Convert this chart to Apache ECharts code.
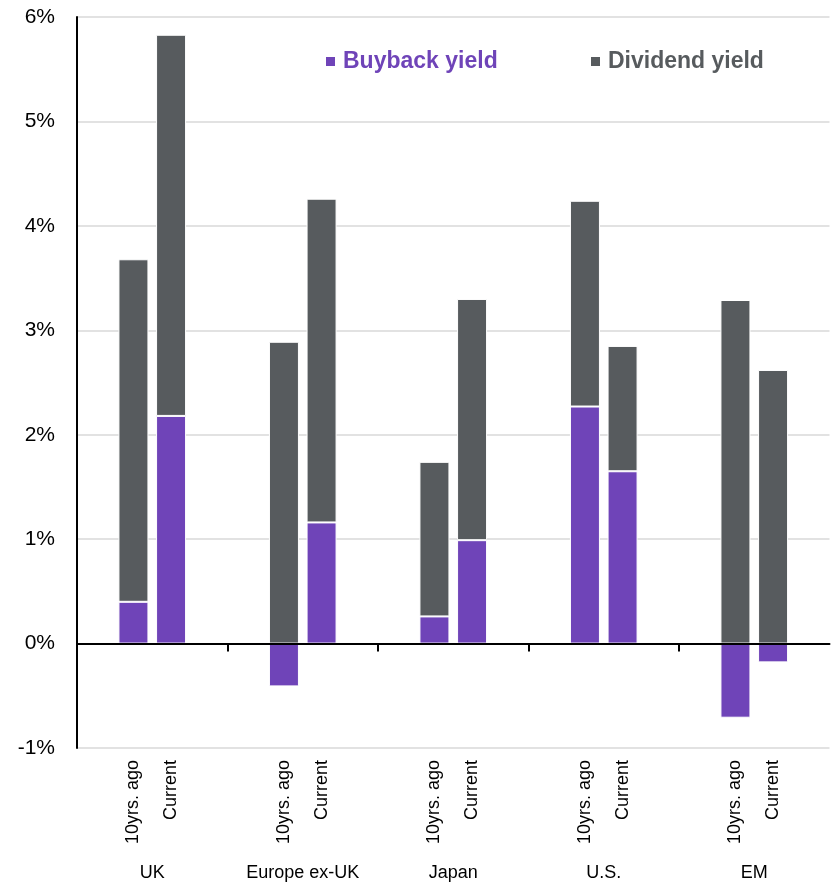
<!DOCTYPE html>
<html>
<head>
<meta charset="utf-8">
<script src="https://cdn.jsdelivr.net/npm/echarts@6/dist/echarts.min.js"></script>
<style>html,body{margin:0;padding:0;background:#fff}#c{width:833px;height:884px}</style>
</head>
<body>
<div id="c"></div>
<script>
// Data
const regions = ['UK', 'Europe ex-UK', 'Japan', 'U.S.', 'EM'];
const periods = ['10yrs. ago', 'Current'];
// values per region: [10yrs. ago, Current]
const buyback = [[0.40, 2.18], [-0.41, 1.16], [0.26, 0.99], [2.27, 1.65], [-0.71, -0.18]];
const dividend = [[3.28, 3.65], [2.89, 3.10], [1.48, 2.31], [1.97, 1.20], [3.29, 2.62]];
const yTicks = [-1, 0, 1, 2, 3, 4, 5, 6];

const PURPLE = '#6F44B8';
const GRAY = '#575B5E';

// build 4 slots per region: blank, 10yrs, current, blank
const slots = [], bbData = [], dvData = [];
regions.forEach((r, i) => {
  slots.push('', periods[0], periods[1], '');
  bbData.push(null, buyback[i][0], buyback[i][1], null);
  dvData.push(null, dividend[i][0], dividend[i][1], null);
});
const slotKeys = slots.map((s, i) => i + '|' + s);
const nSlots = slotKeys.length;
const perGroup = nSlots / regions.length;
const groupBounds = regions.slice(1).map((r, i) => (i + 1) * perGroup);

const chart = echarts.init(document.getElementById('c'));
const legendBase = { icon: 'rect', itemWidth: 9, itemHeight: 9, padding: 0, top: 50,
  itemStyle: { borderWidth: 0 },
  textStyle: { fontSize: 23, fontWeight: 'bold', padding: [0, 0, 0, 3] } };
chart.setOption({
  animation: false,
  textStyle: { fontFamily: 'Liberation Sans, Arial, sans-serif' },
  grid: { left: 77, right: 3.5, top: 17, bottom: 136, containLabel: false },
  legend: [
    Object.assign({}, legendBase, { left: 326, data: [{ name: 'Buyback yield', textStyle: { color: PURPLE } }] }),
    Object.assign({}, legendBase, { left: 591, data: [{ name: 'Dividend yield', textStyle: { color: GRAY } }] })
  ],
  xAxis: [
    { type: 'category', data: slotKeys, position: 'bottom',
      axisLine: { show: false, onZero: false }, axisTick: { show: false }, axisLabel: { show: false } },
    { type: 'category', data: slotKeys, position: 'bottom', gridIndex: 0,
      axisLine: { show: false, onZero: false }, axisTick: { show: false },
      axisLabel: { show: true, interval: 0, rotate: 90, margin: 12, fontSize: 18, color: '#000',
        formatter: (v) => v.split('|')[1] } },
    { type: 'category', data: regions, position: 'bottom', gridIndex: 0,
      axisLine: { show: false, onZero: false }, axisTick: { show: false },
      axisLabel: { show: true, interval: 0, margin: 116, fontSize: 18, color: '#000' } },
    { type: 'value', min: 0, max: nSlots, position: 'bottom', gridIndex: 0, z: 10,
      axisLine: { show: true, onZero: true, lineStyle: { color: '#000', width: 2 } },
      axisTick: { show: true, length: 8, customValues: groupBounds, lineStyle: { color: '#000', width: 2 } },
      axisLabel: { show: false }, splitLine: { show: false } }
  ],
  yAxis: {
    type: 'value', min: yTicks[0], max: yTicks[yTicks.length - 1], interval: 1,
    axisLine: { show: true, onZero: false, lineStyle: { color: '#000', width: 2 } },
    axisTick: { show: false },
    axisLabel: { fontSize: 21, color: '#000', margin: 22, formatter: (v) => v + '%' },
    splitLine: { show: true, lineStyle: { color: '#D9D9D9', width: 1.5 } }
  },
  series: [
    { name: 'Buyback yield', type: 'bar', stack: 'y', data: bbData, barWidth: 30,
      itemStyle: { color: PURPLE, borderColor: '#fff', borderWidth: 1 } },
    { name: 'Dividend yield', type: 'bar', stack: 'y', data: dvData, barWidth: 30,
      itemStyle: { color: GRAY, borderColor: '#fff', borderWidth: 1 } }
  ]
});
</script>
</body>
</html>
